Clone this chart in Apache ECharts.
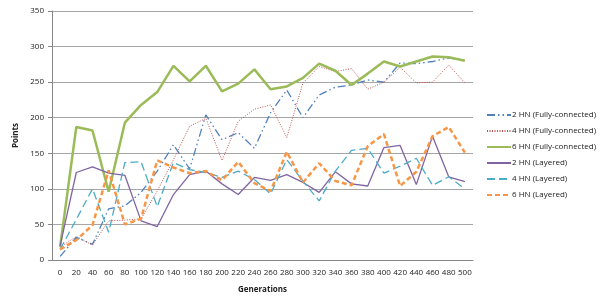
<!DOCTYPE html>
<html>
<head>
<meta charset="utf-8">
<script src="https://cdn.jsdelivr.net/npm/echarts@6/dist/echarts.min.js"></script>
<style>
  html, body { margin: 0; padding: 0; background: #fff; }
  #main { width: 600px; height: 299px; }
</style>
</head>
<body>
<div id="main"></div>
<script>
// generations on the x axis
let generations = [];
for (let g = 0; g <= 500; g += 20) generations.push(String(g));

let hn2Full = [5, 32, 22, 72, 76, 95, 125, 162, 128, 204, 169, 179, 157, 207, 239, 200, 232, 243, 246, 253, 250, 277, 276, 279, 284, 281];
let hn4Full = [18, 33, 21, 55, 56, 58, 97, 141, 188, 199, 140, 195, 212, 218, 172, 249, 272, 265, 269, 240, 250, 271, 249, 250, 274, 249];
let hn6Full = [18, 187, 182, 96, 193, 218, 236, 273, 251, 273, 237, 248, 268, 240, 244, 256, 276, 266, 246, 262, 279, 272, 279, 286, 285, 280];
let hn2Layer = [20, 123, 131, 122, 119, 55, 47, 92, 120, 125, 107, 92, 116, 112, 120, 109, 95, 124, 107, 104, 158, 161, 106, 174, 117, 110];
let hn4Layer = [15, 57, 100, 39, 137, 138, 75, 137, 127, 123, 116, 125, 113, 93, 141, 111, 83, 125, 154, 157, 122, 132, 143, 105, 117, 100];
let hn6Layer = [15, 28, 49, 126, 50, 58, 140, 130, 122, 125, 112, 138, 108, 97, 152, 109, 136, 111, 105, 160, 177, 104, 124, 174, 187, 151];

let font = "'Open Sans', 'Noto Sans', sans-serif";

let mk = (name, data, color, width, type) => ({
  name: name,
  type: "line",
  data: data,
  symbol: "none",
  showSymbol: false,
  lineStyle: { color: color, width: width, type: type },
  itemStyle: { color: color },
});

let chart = echarts.init(document.getElementById("main"), null, { renderer: "canvas" });

let option = {
  animation: false,
  grid: { left: 52, right: 127, top: 11, bottom: 38 },
  legend: {
    orient: "vertical",
    left: 486,
    top: 111,
    padding: 0,
    itemWidth: 24,
    itemHeight: 8,
    itemGap: 8,
    itemStyle: { opacity: 0 },
    textStyle: { fontSize: 8, fontFamily: font, color: "#222", padding: [0, 0, 0, -4] },
    data: [
      "2 HN (Fully-connected)",
      "4 HN (Fully-connected)",
      "6 HN (Fully-connected)",
      "2 HN (Layered)",
      "4 HN (Layered)",
      "6 HN (Layered)",
    ],
  },
  xAxis: {
    type: "category",
    data: generations,
    boundaryGap: true,
    name: "Generations",
    nameLocation: "middle",
    nameGap: 26,
    nameTextStyle: { fontSize: 8, fontWeight: "bold", fontFamily: font, color: "#222" },
    axisLine: { lineStyle: { color: "#868686" } },
    axisTick: { interval: 0, length: 4, lineStyle: { color: "#868686" } },
    axisLabel: { interval: 0, fontSize: 8, fontFamily: font, color: "#222", margin: 9 },
  },
  yAxis: {
    type: "value",
    min: 0,
    max: 350,
    interval: 50,
    name: "Points",
    nameLocation: "middle",
    nameGap: 32,
    nameRotate: 90,
    nameTextStyle: { fontSize: 8, fontWeight: "bold", fontFamily: font, color: "#222" },
    axisLine: { show: true, lineStyle: { color: "#868686" } },
    axisTick: { show: true, length: 4, lineStyle: { color: "#868686" } },
    axisLabel: { fontSize: 8, fontFamily: font, color: "#222", margin: 8 },
    splitLine: { lineStyle: { color: "#a6a6a6", width: 1 } },
  },
  series: [
    mk("2 HN (Fully-connected)", hn2Full, "#4f81bd", 1.3, [8, 3, 1.5, 3, 1.5, 3]),
    mk("4 HN (Fully-connected)", hn4Full, "#c0504d", 1, [1, 1.5]),
    mk("6 HN (Fully-connected)", hn6Full, "#9bbb59", 2.5, "solid"),
    mk("2 HN (Layered)", hn2Layer, "#8064a2", 1.3, "solid"),
    mk("4 HN (Layered)", hn4Layer, "#4bacc6", 1.3, [8, 4]),
    mk("6 HN (Layered)", hn6Layer, "#f79646", 2.5, [5, 3]),
  ],
};

chart.setOption(option);
</script>
</body>
</html>
